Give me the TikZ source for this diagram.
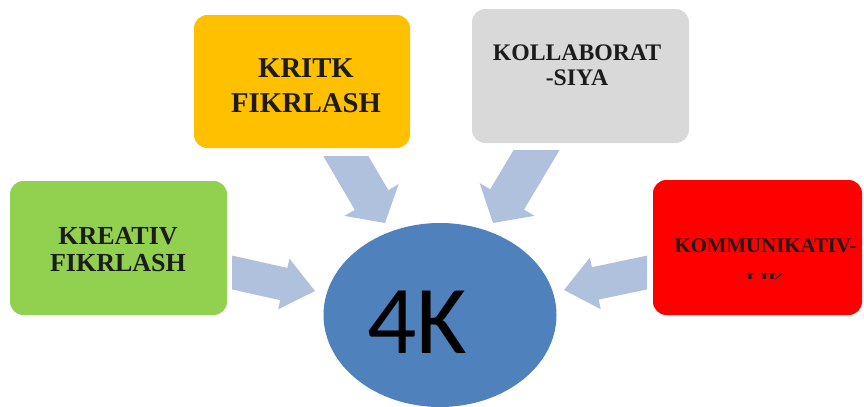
\documentclass[tikz,border=0pt]{standalone}
\usepackage{fontspec}
\setmainfont{Liberation Serif}
\newfontfamily\kfont{Carlito}
\usetikzlibrary{positioning,calc,shapes.geometric}
\definecolor{kGreen}{RGB}{146,208,80}
\definecolor{kYellow}{RGB}{255,192,0}
\definecolor{kGray}{RGB}{217,217,217}
\definecolor{kRed}{RGB}{255,0,0}
\definecolor{kBlue}{RGB}{79,129,189}
\definecolor{kArrow}{RGB}{176,193,222}
\definecolor{kText}{RGB}{28,28,28}
\tikzset{
    skill/.style={rectangle, rounded corners=10pt, inner sep=0pt},
    skilltext/.style={text=kText, font=\bfseries, align=center, inner sep=0pt},
    core/.style={ellipse, fill=kBlue, minimum width=174.75pt, minimum height=138pt, inner sep=0pt},
    bigflow/.style={fill=kArrow}
}
% block arrow: tail, tip, half shaft, half head, head length
\newcommand{\blockarrow}[5]{%
  \coordinate (#2-base) at ($(#2)!#5!(#1)$);
  \fill[bigflow] ($(#1)!#3!90:(#2)$) -- ($(#2-base)!#3!90:(#2)$)
    -- ($(#2-base)!#4!90:(#2)$) -- (#2) -- ($(#2-base)!#4!-90:(#2)$)
    -- ($(#2-base)!#3!-90:(#2)$) -- ($(#1)!#3!-90:(#2)$) -- cycle;
}

\begin{document}
\begin{tikzpicture}[x=0.75pt, y=-0.75pt]
  \useasboundingbox (0,0) rectangle (864,407);

  % Boxes
  \node[skill, fill=kGreen, minimum width=162.75pt, minimum height=100.5pt] (creative) at (118.5,248) {};
  \node[skill, fill=kYellow, minimum width=162pt, minimum height=99.75pt] (critical) at (302,81.5) {};
  \node[skill, fill=kGray, minimum width=162.75pt, minimum height=100.5pt] (collab) at (580.5,76) {};
  \node[skill, fill=kRed, minimum width=156.75pt, minimum height=101.25pt] (commun) at (757.5,247.5) {};

  % Box texts
  \node[skilltext, font=\bfseries\fontsize{19.5}{20.25}\selectfont] (creativetext) at (118,250) {KREATIV\\FIKRLASH};
  \node[skilltext, font=\bfseries\fontsize{21.5}{26.25}\selectfont] (criticaltext) at (306,86) {KRITK\\FIKRLASH};
  \node[skilltext, font=\bfseries\fontsize{17.8}{18.75}\selectfont] (collabtext) at (577,65) {KOLLABORAT\\-SIYA};
  \node[skilltext, font=\bfseries\fontsize{15.6}{18}\selectfont, anchor=base] (communtext) at (765.5,252) {KOMMUNIKATIV-};
  \begin{scope}
    \clip (653,180) rectangle (862,278);
    \node[skilltext, font=\bfseries\fontsize{15.6}{18}\selectfont, anchor=base] (communtail) at (765.5,287) {LIK};
  \end{scope}

  % Centre
  \node[core] (core) at (440,315) {};
  \node[anchor=base, font=\kfont\fontsize{73}{80}\selectfont, inner sep=0pt] (fourk) at (417,353) {4K};

  % Arrows (tails cut straight)
  \coordinate (ltail) at (210.5,267.7);
  \coordinate (ltip) at (315,291);
  \coordinate (rtail) at (668.5,268);
  \coordinate (rtip) at (564,290);
  \coordinate (ytail) at (337,141);
  \coordinate (ytip) at (385,223);
  \coordinate (gtail) at (545,136);
  \coordinate (gtip) at (493,223);
  \begin{scope}
    \clip (232,0) rectangle (864,407);
    \blockarrow{ltail}{ltip}{12.4pt}{19.5pt}{24pt}
  \end{scope}
  \begin{scope}
    \clip (0,0) rectangle (647,407);
    \blockarrow{rtail}{rtip}{12.4pt}{19.8pt}{24pt}
  \end{scope}
  \begin{scope}
    \clip (0,156) rectangle (864,407);
    \blockarrow{ytail}{ytip}{14.6pt}{23.6pt}{20pt}
  \end{scope}
  \begin{scope}
    \clip (0,150) rectangle (864,407);
    \blockarrow{gtail}{gtip}{14.8pt}{24pt}{20.6pt}
  \end{scope}
\end{tikzpicture}
\end{document}
